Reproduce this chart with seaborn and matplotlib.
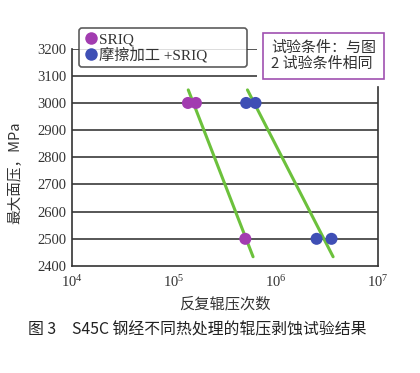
import matplotlib
matplotlib.use("Agg")
import matplotlib.pyplot as plt
import seaborn as sns
import pandas as pd
from matplotlib.lines import Line2D

# ----------------------------------------------------------------------
# Data
# ----------------------------------------------------------------------
sriq_cycles = [1.37e5, 1.64e5, 5.0e5]
sriq_pressure = [3000, 3000, 2500]
fric_cycles = [5.1e5, 6.3e5, 2.5e6, 3.5e6]
fric_pressure = [3000, 3000, 2500, 2500]

# fitted lines (start / end)
line1_cycles = [1.38e5, 5.96e5]
line2_cycles = [5.25e5, 3.63e6]
line_pressure = [3048, 2434]

series_labels = ["SRIQ", "摩擦加工 +SRIQ"]
series_colors = ["#A23CB0", "#3F4FB5"]
line_color = "#6CC13C"

y_ticks = [2400, 2500, 2600, 2700, 2800, 2900, 3000, 3100, 3200]
x_ticks = [1e4, 1e5, 1e6, 1e7]
x_ticklabels = ["$10^4$", "$10^5$", "$10^6$", "$10^7$"]

df = pd.DataFrame({
    "cycles": sriq_cycles + fric_cycles,
    "pressure": sriq_pressure + fric_pressure,
    "series": [series_labels[0]] * len(sriq_cycles) + [series_labels[1]] * len(fric_cycles),
})

# ----------------------------------------------------------------------
# Style
# ----------------------------------------------------------------------
sns.set_style("white")
plt.rcParams["font.family"] = ["Liberation Serif", "Noto Sans CJK SC", "DejaVu Sans"]
plt.rcParams["mathtext.fontset"] = "custom"
plt.rcParams["mathtext.rm"] = "Liberation Serif"
plt.rcParams["mathtext.it"] = "Liberation Serif"

fig = plt.figure(figsize=(4.2, 3.73), dpi=100)
ax = fig.add_axes([72 / 420, 1 - 266 / 373, (378 - 72) / 420, (266 - 48.6) / 373])

grid_kw = dict(color="#3a3a3a", lw=1.2, zorder=1)
for y in y_ticks[1:7]:
    ax.axhline(y, **grid_kw)
ax.hlines([3100, 3200], 1e4, 6.5e5, **grid_kw)

ax.plot(line1_cycles, line_pressure, color=line_color, lw=2.2, zorder=2)
ax.plot(line2_cycles, line_pressure, color=line_color, lw=2.2, zorder=2)

sns.scatterplot(data=df, x="cycles", y="pressure", hue="series",
                palette=dict(zip(series_labels, series_colors)),
                s=75, edgecolor="none", zorder=3, ax=ax, legend=False)

ax.set_xscale("log")
ax.set_xlim(1e4, 1e7)
ax.set_ylim(2400, 3200)
ax.set_xticks(x_ticks)
ax.set_xticklabels(x_ticklabels)
ax.minorticks_off()
ax.set_yticks(y_ticks)
ax.tick_params(axis="x", direction="in", length=3, pad=6, labelsize=10.5, colors="#333333")
ax.tick_params(axis="y", length=0, pad=4, labelsize=10.5, colors="#333333")

ax.spines["top"].set_visible(False)
for s in ["left", "right", "bottom"]:
    ax.spines[s].set_color("#333333")
    ax.spines[s].set_linewidth(1.2)
ax.spines["right"].set_bounds(2400, 3060)

ax.set_xlabel("反复辊压次数", family=["Noto Sans CJK SC"], fontsize=11, color="#333333", labelpad=4)
ax.set_ylabel("最大面压，MPa", family=["Noto Sans CJK SC"], fontsize=10.5, color="#333333")
ax.yaxis.set_label_coords(-0.165, 0.43)

handles = [Line2D([], [], marker="o", ls="none", markersize=9, color=c, markeredgewidth=0)
           for c in series_colors]
leg = ax.legend(handles, series_labels, loc="upper left",
                bbox_to_anchor=(0.023, 0.92, 0.549, 0.175), mode="expand",
                frameon=True, fancybox=True, fontsize=11, handletextpad=0.0,
                handlelength=1.0, borderpad=0.3, labelspacing=0.05,
                borderaxespad=0)
leg.get_frame().set_edgecolor("#333333")
leg.get_frame().set_linewidth(1.2)
leg.set_zorder(5)
for t in leg.get_texts():
    t.set_color("#333333")

fig.text(271 / 420, 1 - 56 / 373, "试验条件：与图\n2 试验条件相同",
         family=["Noto Sans CJK SC"], fontsize=10.8, color="#333333",
         va="center", ha="left", linespacing=1.1,
         bbox=dict(boxstyle="square,pad=0.55", fc="white", ec="#A050B0", lw=1.2))

fig.text(28 / 420, 1 - 330 / 373, "图 3　S45C 钢经不同热处理的辊压剥蚀试验结果",
         family=["Noto Sans CJK SC"], fontsize=11.4, color="#222222",
         va="center", ha="left")

fig.savefig("out.png", dpi=100)
